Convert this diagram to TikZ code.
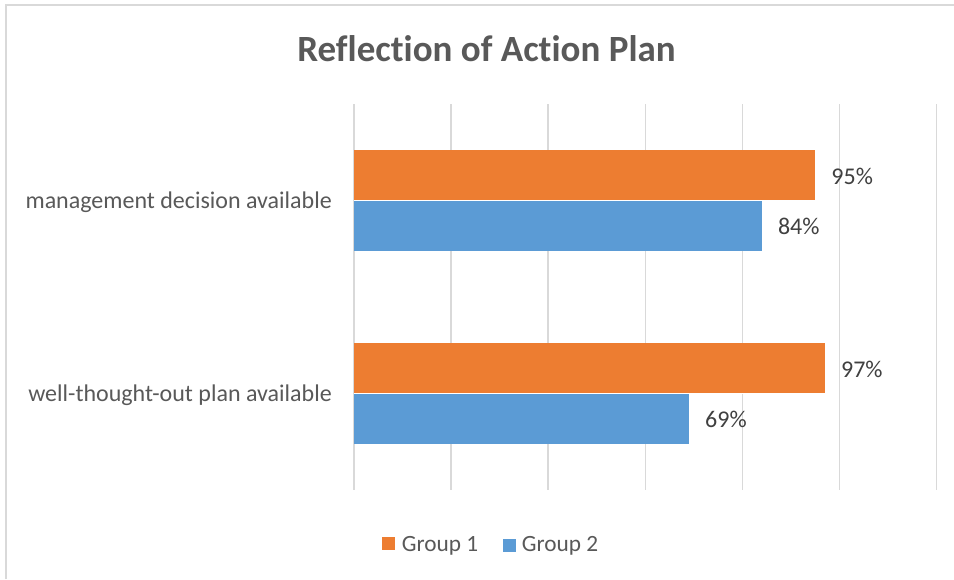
\documentclass[tikz,border=0pt]{standalone}
\usepackage{fontspec}
\setmainfont[Ligatures={NoCommon}]{Carlito}
\usetikzlibrary{positioning}

\definecolor{grpone}{HTML}{ED7D31}
\definecolor{grptwo}{HTML}{5B9BD5}
\definecolor{gridgray}{HTML}{D9D9D9}
\definecolor{txtgray}{HTML}{595959}
\definecolor{valgray}{HTML}{404040}

\tikzset{
    catlabel/.style={anchor=base east, text=txtgray, inner sep=0pt, font=\fontsize{24}{28}\selectfont},
    vallabel/.style={anchor=base west, text=valgray, inner sep=0pt, font=\fontsize{24}{28}\selectfont},
    legtext/.style={anchor=base west, text=txtgray, inner sep=0pt, font=\fontsize{23.3}{27}\selectfont},
    legbox/.style={minimum size=13pt, inner sep=0pt},
    gridline/.style={gridgray, line width=1.5pt},
}

\begin{document}
\begin{tikzpicture}[x=1pt,y=-1pt]
    \useasboundingbox (0,0) rectangle (954,579);
    \fill[white] (0,0) rectangle (954,579);
    \draw[gridgray, line width=2pt] (6,579) -- (6,5) -- (954,5);

    \node[text=txtgray, anchor=base, font=\bfseries\fontsize{37}{42}\selectfont] (title) at (486.5,61) {Reflection of Action Plan};

    % gridlines, 0% to 120%
    \foreach \i in {0,...,6}
        \draw[gridline] ({354+97.1*\i},104) -- ({354+97.1*\i},490);

    % bars: top of group / group 1 / group 2 / category
    \foreach \y/\a/\b/\cat in {150/95/84/management decision available,
                               343/97/69/well-thought-out plan available}{
        \fill[grpone] (354,\y) rectangle ({354+4.855*\a},\y+50);
        \fill[grptwo] (354,\y+50.5) rectangle ({354+4.855*\b},\y+101);
        \draw[white, line width=0.6pt] (354,\y+50.25) -- ({354+4.855*max(\a,\b)},\y+50.25);
        \node[catlabel] (cat\y) at (332,\y+58) {\cat};
        \node[vallabel] (one\y) at ({370+4.855*\a},\y+34) {\a\%};
        \node[vallabel] (two\y) at ({370+4.855*\b},\y+84.5) {\b\%};
    }

    % legend
    \node[legbox, fill=grpone] (keyone) at (388.3,543.7) {};
    \node[legtext] (txtone) at (401.7,551) {Group 1};
    \node[legbox, fill=grptwo, right=24pt of txtone.east, anchor=west, yshift=-0.4pt] (keytwo) {};
    \node[legtext] (txttwo) at ([xshift=6pt]keytwo.east |- txtone.base) {Group 2};
\end{tikzpicture}
\end{document}
